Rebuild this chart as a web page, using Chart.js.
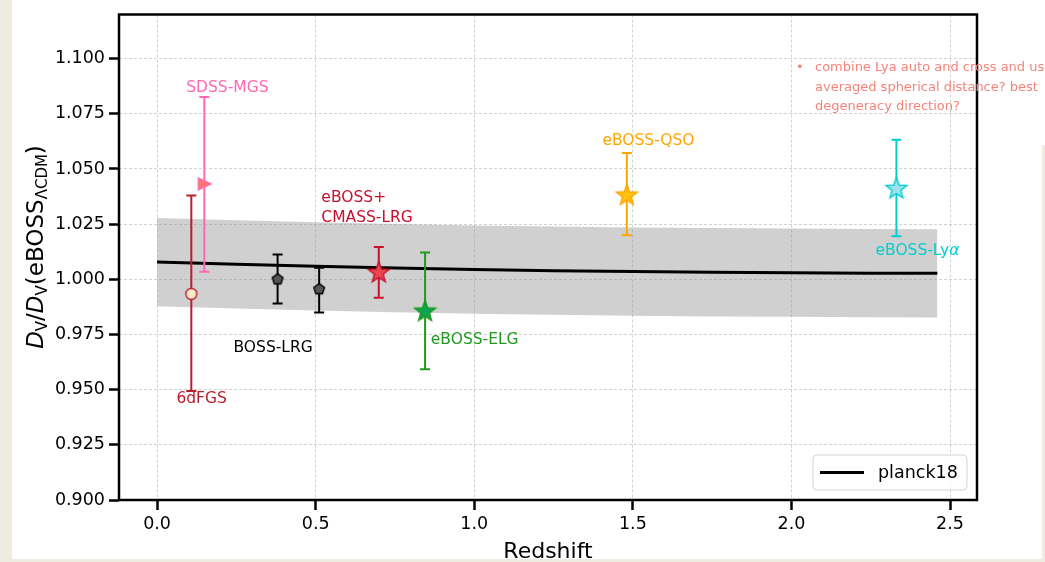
<!DOCTYPE html>
<html>
<head>
<meta charset="utf-8">
<script src="https://cdn.jsdelivr.net/npm/chart.js@4.4.1/dist/chart.umd.min.js"></script>
<style>
  html, body { margin: 0; padding: 0; background: #eeece1; }
  #wrap { position: relative; width: 1045px; height: 562px; }
</style>
</head>
<body>
<div id="wrap"><canvas id="baoChart"></canvas></div>
<script>
// ===== Planck18 prediction + band =====
const bandZ       = [0, 0.25, 0.5, 0.75, 1.0, 1.25, 1.5, 1.75, 2.0, 2.25, 2.46];
const planckRatio = [1.0078, 1.0068, 1.0059, 1.0051, 1.0044, 1.0039, 1.0035, 1.0032, 1.0030, 1.0028, 1.0027];
const bandUpper   = [1.0278, 1.0268, 1.0259, 1.0251, 1.0244, 1.0239, 1.0235, 1.0232, 1.0230, 1.0228, 1.0227];
const bandLower   = [0.9878, 0.9868, 0.9859, 0.9851, 0.9844, 0.9839, 0.9835, 0.9832, 0.9830, 0.9828, 0.9827];

// ===== BAO measurements =====
const surveyNames = ['6dFGS', 'SDSS-MGS', 'BOSS-LRG', 'BOSS-LRG', 'eBOSS+CMASS-LRG', 'eBOSS-ELG', 'eBOSS-QSO', 'eBOSS-Lyα'];
const surveyZ     = [0.108, 0.149, 0.380, 0.511, 0.699, 0.845, 1.481, 2.331];
const surveyRatio = [0.9934, 1.0432, 1.0000, 0.9955, 1.0030, 0.9854, 1.0380, 1.0410];
const errLow      = [0.9494, 1.0034, 0.9890, 0.9850, 0.9917, 0.9593, 1.0200, 1.0195];
const errHigh     = [1.0380, 1.0826, 1.0113, 1.0052, 1.0147, 1.0122, 1.0572, 1.0632];

// tick labels
const xTicks = [0.0, 0.5, 1.0, 1.5, 2.0, 2.5];
const yTicks = [0.900, 0.925, 0.950, 0.975, 1.000, 1.025, 1.050, 1.075, 1.100];

// marker styles
const barColors    = ['#b81f2d', '#ff69b4', '#000000', '#000000', '#c8102e', '#1f9a1f', '#ffa500', '#00ced1'];
const markerFills  = ['#fde9c6', '#ff7373', '#555555', '#555555', '#e5484f', '#0da44f', '#ffc20e', '#9fe3ea'];
const markerShapes = ['circle', 'triangle', 'pentagon', 'pentagon', 'star', 'star', 'star', 'star'];

// survey text labels (data coords of left/middle of text)
const surveyLabels = [
    { text: 'SDSS-MGS', x: 0.092, y: 1.0866, color: '#ff69b4' },
    { text: 'eBOSS+', x: 0.518, y: 1.0368, color: '#c8102e' },
    { text: 'CMASS-LRG', x: 0.518, y: 1.0277, color: '#c8102e' },
    { text: 'BOSS-LRG', x: 0.241, y: 0.9689, color: '#000000' },
    { text: '6dFGS', x: 0.061, y: 0.9459, color: '#b81f2d' },
    { text: 'eBOSS-ELG', x: 0.863, y: 0.9727, color: '#1f9a1f' },
    { text: 'eBOSS-QSO', x: 1.404, y: 1.0627, color: '#ffa500' },
    { text: 'eBOSS-Ly', tail: 'α', x: 2.265, y: 1.0129, color: '#00ced1' }
];

const FONT = 'DejaVu Sans';

// ===== marker images =====
function makeMarker(shape, fill, stroke) {
    const size = shape === 'star' ? 28 : 18;
    const c = document.createElement('canvas');
    c.width = c.height = size;
    const g = c.getContext('2d');
    const m = size / 2;
    g.beginPath();
    if (shape === 'star') {
        for (let i = 0; i < 10; i++) {
            const a = -Math.PI / 2 + i * Math.PI / 5;
            const r = i % 2 ? 4.6 : 11;
            g.lineTo(m + r * Math.cos(a), m + r * Math.sin(a));
        }
    } else if (shape === 'pentagon') {
        for (let i = 0; i < 5; i++) {
            const a = -Math.PI / 2 + i * 2 * Math.PI / 5;
            g.lineTo(m + 5.6 * Math.cos(a), m + 5.6 * Math.sin(a));
        }
    } else if (shape === 'triangle') {
        g.moveTo(m + 6.5, m);
        g.lineTo(m - 6, m - 6);
        g.lineTo(m - 6, m + 6);
    } else {
        g.arc(m, m, 5.5, 0, Math.PI * 2);
    }
    g.closePath();
    g.fillStyle = fill;
    g.fill();
    g.lineWidth = 1.4;
    g.strokeStyle = stroke;
    g.stroke();
    return c;
}

// ===== datasets =====
const datasets = [
    {
        label: 'band-upper',
        data: bandZ.map((z, i) => ({ x: z, y: bandUpper[i] })),
        borderWidth: 0, pointRadius: 0, fill: false, order: 5
    },
    {
        label: 'band-lower',
        data: bandZ.map((z, i) => ({ x: z, y: bandLower[i] })),
        borderWidth: 0, pointRadius: 0, fill: '-1',
        backgroundColor: 'rgba(150,150,150,0.45)', order: 4
    },
    {
        label: 'planck18',
        data: bandZ.map((z, i) => ({ x: z, y: planckRatio[i] })),
        borderColor: '#000000', borderWidth: 3, pointRadius: 0, fill: false, order: 3
    }
];
surveyZ.forEach((z, i) => {
    datasets.push({
        label: surveyNames[i],
        data: [{ x: z, y: surveyRatio[i] }],
        showLine: false,
        pointStyle: makeMarker(markerShapes[i], markerFills[i], barColors[i]),
        pointRadius: 10,
        errIndex: i,
        order: 0
    });
});

// ===== plugins =====
const pagePlugin = {
    id: 'page',
    beforeDraw(chart) {
        const ctx = chart.ctx;
        ctx.save();
        ctx.fillStyle = '#eeece1';
        ctx.fillRect(0, 0, chart.width, chart.height);
        ctx.fillStyle = '#ffffff';
        ctx.fillRect(12, 0, chart.width - 12, 559);
        ctx.fillStyle = '#eeece1';
        ctx.fillRect(1042, 145, 3, 414);
        ctx.restore();
    }
};

const errorBarPlugin = {
    id: 'errorBars',
    beforeDatasetDraw(chart, args) {
        const ds = chart.data.datasets[args.index];
        if (ds.errIndex === undefined) return;
        const i = ds.errIndex;
        const xs = chart.scales.x, ys = chart.scales.y;
        const px = xs.getPixelForValue(surveyZ[i]);
        const yLo = ys.getPixelForValue(errLow[i]);
        const yHi = ys.getPixelForValue(errHigh[i]);
        const ctx = chart.ctx;
        ctx.save();
        ctx.strokeStyle = barColors[i];
        ctx.lineWidth = 2;
        ctx.beginPath();
        ctx.moveTo(px, yLo); ctx.lineTo(px, yHi);
        ctx.moveTo(px - 5, yLo); ctx.lineTo(px + 5, yLo);
        ctx.moveTo(px - 5, yHi); ctx.lineTo(px + 5, yHi);
        ctx.stroke();
        ctx.restore();
    }
};

const decorPlugin = {
    id: 'decor',
    afterDatasetsDraw(chart) {
        const ctx = chart.ctx;
        const area = chart.chartArea;
        const xs = chart.scales.x, ys = chart.scales.y;
        ctx.save();

        // survey labels
        ctx.textBaseline = 'middle';
        ctx.textAlign = 'left';
        surveyLabels.forEach(l => {
            const px = xs.getPixelForValue(l.x);
            const py = ys.getPixelForValue(l.y);
            ctx.fillStyle = l.color;
            ctx.font = `15.5px ${FONT}`;
            ctx.fillText(l.text, px, py);
            if (l.tail) {
                const w = ctx.measureText(l.text).width;
                ctx.font = `italic 15.5px ${FONT}`;
                ctx.fillText(l.tail, px + w, py);
            }
        });

        // frame
        ctx.strokeStyle = '#000000';
        ctx.lineWidth = 2.5;
        ctx.strokeRect(area.left, area.top, area.right - area.left, area.bottom - area.top);

        // legend
        const lx = area.right - 164, ly = area.bottom - 45, lw = 154, lh = 35;
        ctx.beginPath();
        ctx.roundRect(lx, ly, lw, lh, 4);
        ctx.fillStyle = 'rgba(255,255,255,0.85)';
        ctx.fill();
        ctx.strokeStyle = '#d4d4d4';
        ctx.lineWidth = 1;
        ctx.stroke();
        ctx.beginPath();
        ctx.strokeStyle = '#000000';
        ctx.lineWidth = 3;
        ctx.moveTo(lx + 7, ly + lh / 2);
        ctx.lineTo(lx + 51, ly + lh / 2);
        ctx.stroke();
        ctx.fillStyle = '#000000';
        ctx.font = `17.5px ${FONT}`;
        ctx.fillText(chart.data.datasets[2].label, lx + 65, ly + lh / 2 + 1);

        // x title
        ctx.textAlign = 'center';
        ctx.textBaseline = 'alphabetic';
        ctx.font = `22px ${FONT}`;
        ctx.fillText('Redshift', (area.left + area.right) / 2, 558);

        // y title with sub-scripts
        const parts = [
            { t: 'D', f: `italic 23px ${FONT}`, dy: 0 },
            { t: 'V', f: `15px ${FONT}`, dy: 4 },
            { t: '/', f: `23px ${FONT}`, dy: 0 },
            { t: 'D', f: `italic 23px ${FONT}`, dy: 0 },
            { t: 'V', f: `15px ${FONT}`, dy: 4 },
            { t: '(eBOSS', f: `23px ${FONT}`, dy: 0 },
            { t: 'ΛCDM', f: `15px ${FONT}`, dy: 4 },
            { t: ')', f: `23px ${FONT}`, dy: 0 }
        ];
        let total = 0;
        parts.forEach(p => { ctx.font = p.f; p.w = ctx.measureText(p.t).width; total += p.w; });
        ctx.translate(43, 247);
        ctx.rotate(-Math.PI / 2);
        ctx.textAlign = 'left';
        let cx = -total / 2;
        parts.forEach(p => {
            ctx.font = p.f;
            ctx.fillText(p.t, cx, p.dy);
            cx += p.w;
        });
        ctx.restore();

        // slide comment
        ctx.save();
        ctx.fillStyle = '#f4847a';
        ctx.font = `13px ${FONT}`;
        ctx.textBaseline = 'middle';
        ctx.fillText('•', 796, 68);
        ctx.fillText('combine Lya auto and cross and use', 815, 68);
        ctx.fillText('averaged spherical distance? best', 815, 88);
        ctx.fillText('degeneracy direction?', 815, 107);
        ctx.restore();
    }
};

// ===== chart =====
new Chart(document.getElementById('baoChart'), {
    type: 'line',
    data: { datasets: datasets },
    options: {
        responsive: true,
        maintainAspectRatio: false,
        animation: false,
        events: [],
        layout: { padding: { left: 0, top: 13, right: 68, bottom: 0 } },
        plugins: { legend: { display: false }, tooltip: { enabled: false } },
        scales: {
            x: {
                type: 'linear',
                min: -0.12,
                max: 2.585,
                afterBuildTicks: s => { s.ticks = xTicks.map(v => ({ value: v })); },
                afterFit: s => { s.height = 62; },
                ticks: {
                    callback: v => v.toFixed(1),
                    color: '#000000',
                    font: { family: FONT, size: 17.5 },
                    padding: 4,
                    maxRotation: 0
                },
                grid: {
                    color: '#c6c6c6', lineWidth: 0.8,
                    tickColor: '#000000', tickWidth: 2.5, tickLength: 10
                },
                border: { display: false, dash: [3, 2] }
            },
            y: {
                type: 'linear',
                min: 0.9,
                max: 1.12,
                afterBuildTicks: s => { s.ticks = yTicks.map(v => ({ value: v })); },
                afterFit: s => { s.width = 119; },
                ticks: {
                    callback: v => v.toFixed(3),
                    color: '#000000',
                    font: { family: FONT, size: 17.5 },
                    padding: 4
                },
                grid: {
                    color: '#c6c6c6', lineWidth: 0.8,
                    tickColor: '#000000', tickWidth: 2.5, tickLength: 10
                },
                border: { display: false, dash: [3, 2] }
            }
        }
    },
    plugins: [pagePlugin, errorBarPlugin, decorPlugin]
});
</script>
</body>
</html>
